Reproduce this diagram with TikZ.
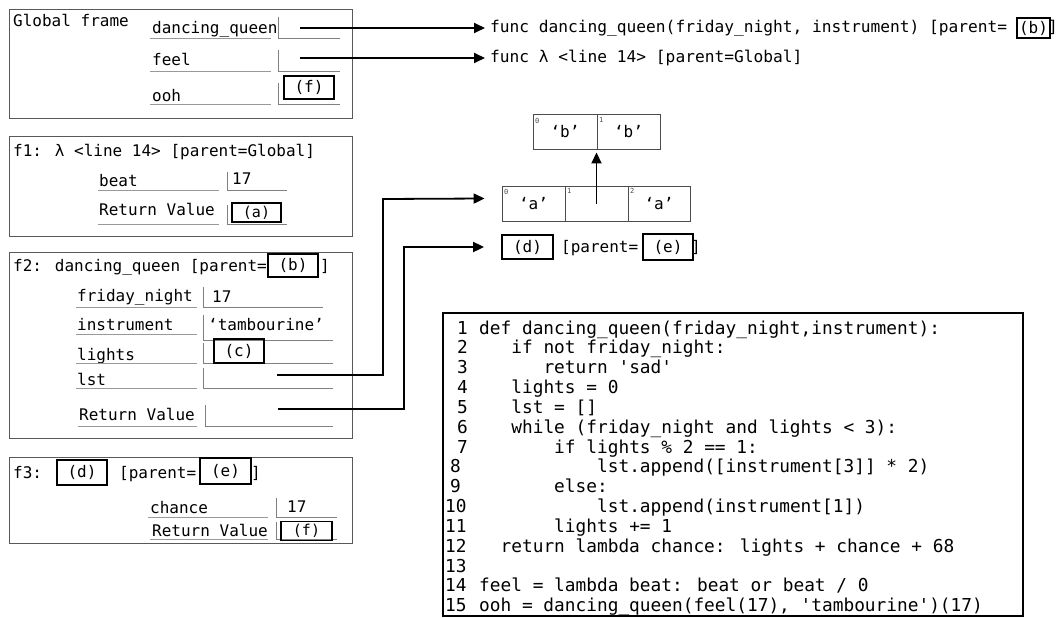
\documentclass[tikz,border=0pt]{standalone}
\usepackage{fontspec}
\setmainfont{DejaVu Sans Mono}
\newfontfamily\codefont{DejaVu Sans Mono}
\usetikzlibrary{arrows.meta,calc}
\newcommand{\ff}{\fontsize{16}{19}\selectfont}
\newcommand{\fb}{\fontsize{16.2}{19}\selectfont}
\newcommand{\fs}{\fontsize{15}{17}\selectfont}
\newcommand{\cf}{\codefont\fontsize{17.8}{20}\selectfont}
\newcommand{\tf}{\fontsize{7}{8}\selectfont}
\begin{document}
\begin{tikzpicture}[x=1pt,y=-1pt,
  frame/.style={draw=black!65, line width=0.9pt},
  uline/.style={draw=black!40, line width=0.9pt},
  vbox/.style={draw=black!50, line width=0.9pt},
  lbl/.style={font=\ff, inner sep=0pt, anchor=base west},
  refbox/.style={draw=black, line width=1.8pt, font=\ff, inner sep=0pt},
  ptr/.style={draw=black, line width=1.8pt, -{Triangle[length=11pt,width=10pt]}},
  cell/.style={draw=black!70, line width=0.9pt, minimum height=35pt, inner sep=0pt, font=\ff},
  idx/.style={font=\tf, inner sep=0pt, anchor=north west, text=black!70},
  code/.style={font=\cf, inner sep=0pt, anchor=base west},
  num/.style={font=\cf, inner sep=0pt, anchor=base west}]
\useasboundingbox (0,0) rectangle (1060,618);
\fill[white] (0,0) rectangle (1060,618);

% ---------- Global frame ----------
\draw[frame] (9,9) rectangle (352,118);
\node[lbl] (gt) at (13,26.7) {Global frame};
\node[lbl] (gdq) at (152,33.3) {dancing\_queen};
\draw[uline] (150,38) -- (271,38);
\draw[vbox] (278,17) -- (278,38) -- (340,38);
\coordinate (gdqp) at (300,28);
\node[lbl] (gfeel) at (152,65.7) {feel};
\draw[uline] (150,71) -- (271,71);
\draw[vbox] (278,50) -- (278,71) -- (340,71);
\coordinate (gfeelp) at (300,58);
\node[lbl] (gooh) at (152,101) {ooh};
\draw[uline] (150,104) -- (271,104);
\draw[vbox] (278,83) -- (278,104) -- (340,104);
\node[refbox, minimum width=50pt, minimum height=23pt] (gf) at (309,87.5) {(f)};

% ---------- function objects ----------
\node[lbl, font=\fb] (fn1) at (490,33) {func dancing\_queen(friday\_night, instrument) [parent=};
\node[refbox, minimum width=33pt, minimum height=20pt] (fnb) at (1033.5,28) {(b)};
\node[lbl, font=\fb] (fnbr) at (1048,33) {]};
\node[lbl, font=\fb] (fn2) at (490,63) {func λ <line 14> [parent=Global]};
\draw[ptr, shorten >=5pt] (gdqp) -- (gdqp -| fn1.west);
\draw[ptr, shorten >=5pt] (gfeelp) -- (gfeelp -| fn2.west);

% ---------- f1 ----------
\draw[frame] (9,136) rectangle (352,236);
\node[lbl] (f1t) at (13,156.7) {f1: λ <line 14> [parent=Global]};
\node[lbl] (f1beat) at (99,186) {beat};
\draw[uline] (98,190) -- (219,190);
\draw[vbox] (227,172) -- (227,190) -- (287,190);
\node[lbl] (f1v) at (232,184) {17};
\node[lbl] (f1rv) at (99,215) {Return Value};
\draw[uline] (98,224) -- (219,224);
\draw[vbox] (227,205) -- (227,224) -- (287,224);
\node[refbox, font=\fs, minimum width=49pt, minimum height=19pt] (f1a) at (256.5,212.5) {(a)};

% ---------- f2 ----------
\draw[frame] (9,252) rectangle (352,438);
\node[lbl] (f2t) at (13,271.7) {f2: dancing\_queen [parent=};
\node[refbox, minimum width=50pt, minimum height=23pt] (f2b) at (293,265.5) {(b)};
\node[lbl] (f2br) at (320,271.7) {]};
\node[lbl] (f2fn) at (77,301.7) {friday\_night};
\draw[uline] (76,307) -- (197,307);
\draw[vbox] (203,287) -- (203,307) -- (323,307);
\node[lbl] (f2fnv) at (212,302) {17};
\node[lbl] (f2in) at (77,330.7) {instrument};
\draw[uline] (76,334) -- (197,334);
\draw[vbox] (203,315) -- (203,340) -- (333,340);
\node[lbl] (f2inv) at (208,330.7) {‘tambourine’};
\node[lbl] (f2li) at (77,360) {lights};
\draw[uline] (76,363) -- (197,363);
\draw[vbox] (203,343) -- (203,363) -- (333,363);
\node[refbox, minimum width=50pt, minimum height=24pt] (f2c) at (239,351) {(c)};
\node[lbl] (f2lst) at (77,385) {lst};
\draw[uline] (76,388) -- (197,388);
\draw[vbox] (203,368) -- (203,388) -- (333,388);
\coordinate (lstp) at (277,375);
\node[lbl] (f2rv) at (79,420) {Return Value};
\draw[uline] (78,426) -- (197,426);
\draw[vbox] (205,405) -- (205,426) -- (333,426);
\coordinate (retp) at (278,409);

% ---------- f3 ----------
\draw[frame] (9,457) rectangle (352,543);
\node[lbl] (f3t) at (13,478) {f3:};
\node[refbox, minimum width=50pt, minimum height=25pt] (f3d) at (82,472.5) {(d)};
\node[lbl] (f3p) at (119,478) {[parent=};
\node[refbox, minimum width=51pt, minimum height=26pt] (f3e) at (225.5,471) {(e)};
\node[lbl] (f3br) at (251,478) {]};
\node[lbl] (f3ch) at (150,513) {chance};
\draw[uline] (148,517) -- (268,517);
\draw[vbox] (276,498) -- (276,517) -- (337,517);
\node[lbl] (f3chv) at (287,512) {17};
\node[lbl] (f3rv) at (152,536) {Return Value};
\draw[uline] (150,539) -- (268,539);
\draw[vbox] (276,522) -- (276,539) -- (337,539);
\node[refbox, font=\fs, minimum width=51pt, minimum height=19pt] (f3f) at (306.5,531) {(f)};

% ---------- lists ----------
\node[cell, minimum width=64pt] (lb0) at (565,131.5) {‘b’};
\node[cell, minimum width=63pt] (lb1) at (628.5,131.5) {‘b’};
\node[idx] (ib0) at (535,118) {0};
\node[idx] (ib1) at (599,117) {1};
\node[cell, minimum width=63pt] (la0) at (533.5,203.5) {‘a’};
\node[cell, minimum width=63pt] (la1) at (596.5,203.5) {};
\node[cell, minimum width=62pt] (la2) at (659,203.5) {‘a’};
\node[idx] (ia0) at (504,189) {0};
\node[idx] (ia1) at (567,188) {1};
\node[idx] (ia2) at (630,188) {2};
\draw[ptr, shorten >=3pt] (la1.center) -- (la1.center |- lb0.south);

% ---------- f3 function ----------
\node[refbox, minimum width=51pt, minimum height=24pt] (rd) at (527.5,247) {(d)};
\node[lbl] (rp) at (561,252) {[parent=};
\node[refbox, minimum width=50pt, minimum height=26pt] (re) at (668,247) {(e)};
\node[lbl] (rbr) at (691,252) {]};

% ---------- pointers from f2 ----------
\draw[ptr] (lstp) -- (383,375) -- (383,199) -- ([xshift=-17pt,yshift=5pt]la0.west);
\draw[ptr] (retp) -- (404,409) -- (404,247) -- ([xshift=-17pt]rd.west);

% ---------- code ----------
\node[draw=black, line width=1.5pt, minimum width=580pt, minimum height=303pt, inner sep=0pt] (codebox) at (733,464.5) {};
\def\cw{10.72}
\node[num] (n1) at (457,334.0) {1};
\node[code] (c1) at ({479+0*\cw},334.0) {def dancing\_queen(friday\_night,instrument):};
\node[num] (n2) at (457,353.84) {2};
\node[code] (c2) at ({479+3*\cw},353.84) {if not friday\_night:};
\node[num] (n3) at (457,373.68) {3};
\node[code] (c3) at ({479+6*\cw},373.68) {return 'sad'};
\node[num] (n4) at (457,393.52) {4};
\node[code] (c4) at ({479+3*\cw},393.52) {lights = 0};
\node[num] (n5) at (457,413.36) {5};
\node[code] (c5) at ({479+3*\cw},413.36) {lst = []};
\node[num] (n6) at (457,433.2) {6};
\node[code] (c6) at ({479+3*\cw},433.2) {while (friday\_night and lights < 3):};
\node[num] (n7) at (457,453.04) {7};
\node[code] (c7) at ({479+7*\cw},453.04) {if lights \% 2 == 1:};
\node[num] (n8) at (450,472.88) {8};
\node[code] (c8) at ({479+11*\cw},472.88) {lst.append([instrument[3]] * 2)};
\node[num] (n9) at (450,492.72) {9};
\node[code] (c9) at ({479+7*\cw},492.72) {else:};
\node[num] (n10) at (445,512.56) {10};
\node[code] (c10) at ({479+11*\cw},512.56) {lst.append(instrument[1])};
\node[num] (n11) at (445,532.4) {11};
\node[code] (c11) at ({479+7*\cw},532.4) {lights += 1};
\node[num] (n12) at (445,552.24) {12};
\node[code] (c12) at ({479+2*\cw},552.24) {return lambda chance: lights + chance + 68};
\node[num] (n13) at (445,572.08) {13};
\node[num] (n14) at (445,591.92) {14};
\node[code] (c14) at ({479+0*\cw},591.92) {feel = lambda beat: beat or beat / 0};
\node[num] (n15) at (445,611.76) {15};
\node[code] (c15) at ({479+0*\cw},611.76) {ooh = dancing\_queen(feel(17), 'tambourine')(17)};
\end{tikzpicture}
\end{document}
